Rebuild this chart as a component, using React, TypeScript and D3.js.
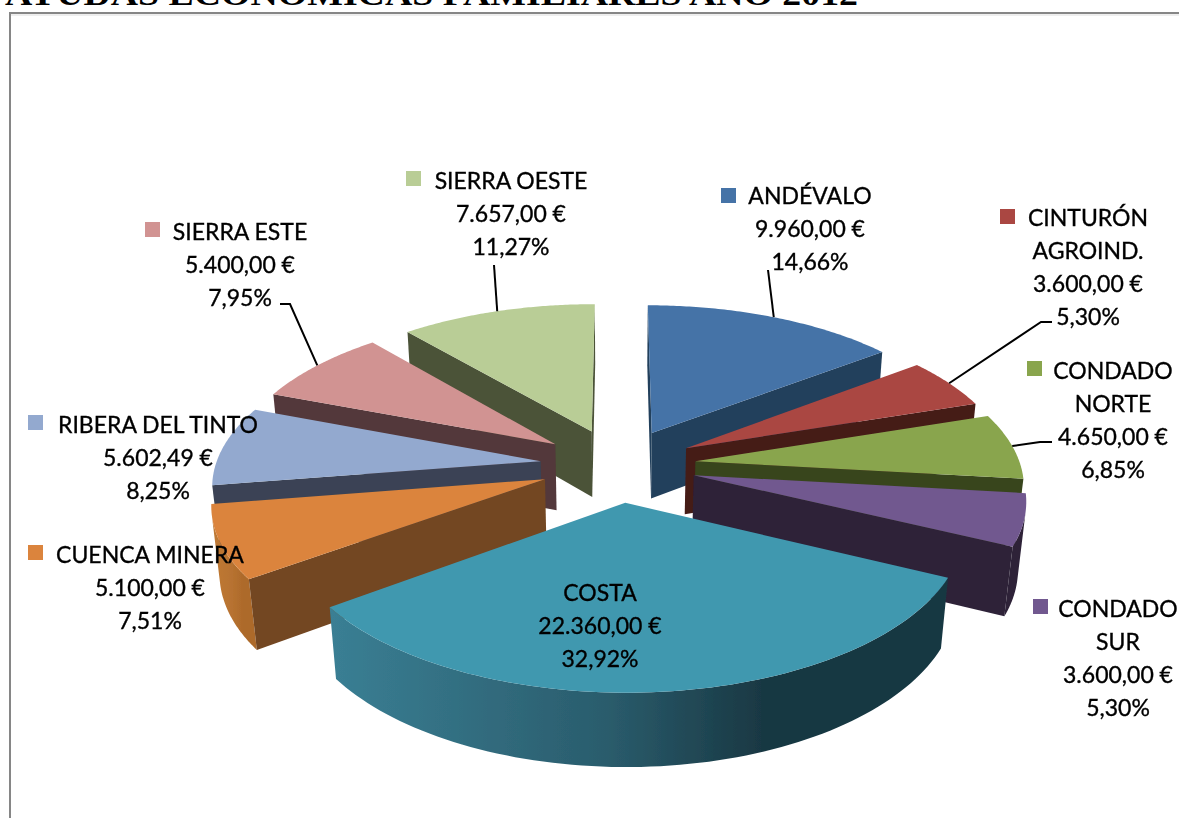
import React from "react";
import * as d3 from "d3";

const categories = ["ANDÉVALO", "CINTURÓN AGROIND.", "CONDADO NORTE", "CONDADO SUR", "COSTA", "CUENCA MINERA", "RIBERA DEL TINTO", "SIERRA ESTE", "SIERRA OESTE"];
const amounts = [9960, 3600, 4650, 3600, 22360, 5100, 5602.49, 5400, 7657];
const amountLabels = ["9.960,00 €", "3.600,00 €", "4.650,00 €", "3.600,00 €", "22.360,00 €", "5.100,00 €", "5.602,49 €", "5.400,00 €", "7.657,00 €"];
const percentLabels = ["14,66%", "5,30%", "6,85%", "5,30%", "32,92%", "7,51%", "8,25%", "7,95%", "11,27%"];
const nameLines = [["ANDÉVALO"], ["CINTURÓN", "AGROIND."], ["CONDADO", "NORTE"], ["CONDADO", "SUR"], ["COSTA"], ["CUENCA MINERA"], ["RIBERA DEL TINTO"], ["SIERRA ESTE"], ["SIERRA OESTE"]];
const topColors = ["#4573a7", "#aa4643", "#89a54e", "#71588f", "#4198af", "#db843d", "#93a9cf", "#d19392", "#b9cd96"];
const wallColors = ["#24405c", "#451a18", "#38441d", "#2d2238", "#1b3a47", "#734620", "#3a4354", "#53383a", "#4b5239"];
const rimLeft = ["#24405c", "#451a18", "#38441d", "#2d2238", "#3a7f94", "#c07a35", "#3a4354", "#53383a", "#4b5239"];
const rimRight = ["#24405c", "#451a18", "#38441d", "#2d2238", "#193843", "#ad6a2b", "#3a4354", "#53383a", "#4b5239"];
const titleText = "AYUDAS ECONÓMICAS FAMILIARES AÑO 2012";

// label layout: centre x of the text block, first baseline, legend key position
const labelCx = [810, 1088, 1113, 1118, 600, 150, 158, 240, 511];
const labelY = [204, 226, 379, 617, 601, 563, 433, 240, 189];
const keyX = [721, 1000, 1027, 1033, 507, 28, 28, 145, 406];
const keyY = [188, 209, 361, 599, 585, 545, 415, 222, 171];
// leader lines: the points leading from the label towards the rim of the slice
const leaderFrom: ([number, number][] | null)[] = [
  [[768, 270]],
  [[1052, 322], [1041, 322]],
  [[1052, 442], [1040, 442]],
  null, null, null, null,
  [[280, 304], [290, 304]],
  [[494, 265]],
];

const W = 1179, H = 818;
const CX = 618, CY = 465, SX = 325, SY = 153, DEPTH = 68;
const PERSP = 0.135, PERSP_Z = 0.02, EXPLODE = 0.24, FONT = 23, LINE = 33;

const project = (x: number, y: number, z: number): [number, number] => {
  const s = 1 / (1 + PERSP * y + PERSP_Z * z);
  return [CX + SX * x * s, CY + (-SY * y + DEPTH * z) * s];
};
const pathGen = d3.line<[number, number]>();
const area = (p: [number, number][]) => {
  let a = 0;
  p.forEach((q, i) => {
    const r = p[(i + 1) % p.length];
    a += q[0] * r[1] - r[0] * q[1];
  });
  return a / 2;
};

const arcs = d3.pie<number>().sort(null).startAngle(0).endAngle(2 * Math.PI)(amounts);

const slices = arcs.map((arc, i) => {
  const mid = (arc.startAngle + arc.endAngle) / 2;
  const ox = EXPLODE * Math.sin(mid), oy = EXPLODE * Math.cos(mid);
  const samples = d3.range(81).map((k) => d3.interpolateNumber(arc.startAngle, arc.endAngle)(k / 80));
  const rim = (a: number, z: number) => project(ox + Math.sin(a), oy + Math.cos(a), z);
  const topRim = samples.map((a) => rim(a, 0));
  const botRim = samples.map((a) => rim(a, 1));
  const apexT = project(ox, oy, 0), apexB = project(ox, oy, 1);
  const startWall: [number, number][] = [apexT, topRim[0], botRim[0], apexB];
  const endWall: [number, number][] = [apexT, topRim[80], botRim[80], apexB];
  const keep = d3.range(80).filter((k) => area([topRim[k], topRim[k + 1], botRim[k + 1], botRim[k]]) < 0);
  let outer: [number, number][] | null = null;
  if (keep.length) {
    const a = keep[0], b = keep[keep.length - 1] + 1;
    outer = [...topRim.slice(a, b + 1), ...botRim.slice(a, b + 1).reverse()];
  }
  const midRim = rim(mid, 0);
  return {
    i, order: oy, mid, midRim,
    top: [apexT, ...topRim] as [number, number][],
    startWall: area(startWall) < 0 ? startWall : null,
    endWall: area(endWall) > 0 ? endWall : null,
    outer,
  };
});
const drawOrder = [...slices].sort((a, b) => b.order - a.order);

export default function App() {
  return (
    <svg width={W} height={H} viewBox={`0 0 ${W} ${H}`} style={{ position: "absolute", left: 0, top: 0, display: "block", background: "#fff" }}>
      <defs>
        <filter id="soft" x="-2%" y="-2%" width="104%" height="104%">
          <feGaussianBlur stdDeviation="0.45" />
        </filter>
        {slices.map((s) => {
          const xs = s.outer ? s.outer.map((p) => p[0]) : [0, 1];
          return (
            <linearGradient key={s.i} id={`rim${s.i}`} gradientUnits="userSpaceOnUse" x1={d3.min(xs)} x2={d3.max(xs)} y1={0} y2={0}>
              <stop offset="0" stopColor={rimLeft[s.i]} />
              <stop offset="0.45" stopColor={d3.interpolateRgb(rimLeft[s.i], rimRight[s.i])(0.5)} />
              <stop offset="0.7" stopColor={rimRight[s.i]} />
              <stop offset="1" stopColor={rimRight[s.i]} />
            </linearGradient>
          );
        })}
      </defs>
      <text x={5} y={5} fontFamily="'Liberation Serif', serif" fontWeight="700" fontSize={31} textLength={853} lengthAdjust="spacingAndGlyphs" fill="#000">{titleText}</text>
      <rect x={10} y={14} width={1169} height={2} fill="#eeeeee" />
      <rect x={10} y={12} width={1169} height={2} fill="#868686" />
      <rect x={9} y={12} width={2} height={806} fill="#868686" />

      <g filter="url(#soft)">
        {drawOrder.map((s) => (
          <g key={s.i} data-name={categories[s.i]}>
            {s.outer && <path d={pathGen(s.outer) + "Z"} fill={`url(#rim${s.i})`} />}
            {s.startWall && <path d={pathGen(s.startWall) + "Z"} fill={wallColors[s.i]} />}
            {s.endWall && <path d={pathGen(s.endWall) + "Z"} fill={wallColors[s.i]} />}
            <path d={pathGen(s.top) + "Z"} fill={topColors[s.i]} />
          </g>
        ))}

        {slices.map((s) => {
          const from = leaderFrom[s.i];
          return from ? <path key={s.i} d={pathGen([...from, s.midRim]) ?? ""} fill="none" stroke="#000" strokeWidth={2} /> : null;
        })}

        {slices.map((s) => {
          const lines = [...nameLines[s.i], amountLabels[s.i], percentLabels[s.i]];
          return (
            <g key={s.i}>
              <rect x={keyX[s.i]} y={keyY[s.i]} width={15} height={15} fill={topColors[s.i]} />
              {lines.map((t, j) => (
                <text key={j} x={labelCx[s.i]} y={labelY[s.i] + j * LINE} textAnchor="middle" fontFamily="Lato, sans-serif" fontSize={FONT} fontWeight="400" stroke="#000" strokeWidth={0.35} fill="#000">{t}</text>
              ))}
            </g>
          );
        })}
      </g>
    </svg>
  );
}
